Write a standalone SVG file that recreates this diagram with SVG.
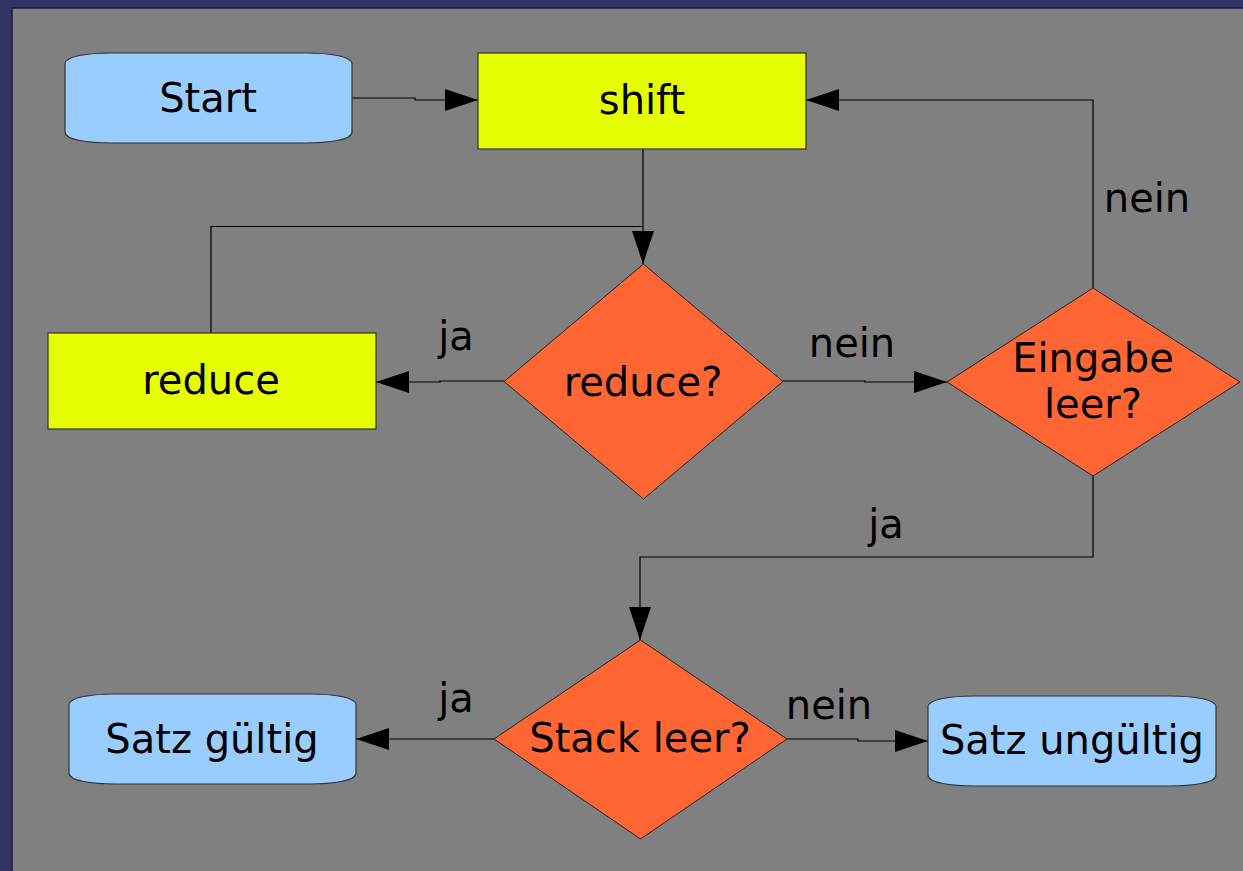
<svg xmlns="http://www.w3.org/2000/svg" width="1243" height="871" viewBox="0 0 1243 871">
  <style>
    text { font-family: "DejaVu Sans", "Liberation Sans", sans-serif; font-size: 40px; fill: #000; text-anchor: middle; }
    .term { fill: #99ccff; stroke: #333; stroke-width: 1.2; }
    .proc { fill: #e6ff00; stroke: #333; stroke-width: 1.2; }
    .dec { fill: #ff6633; stroke: #222; stroke-width: 1; }
    .conn { fill: none; stroke: #000; stroke-width: 1.2; marker-end: url(#arrow); }
    .plain { fill: none; stroke: #000; stroke-width: 1.2; }
  </style>
  <defs>
    <marker id="arrow" markerUnits="userSpaceOnUse" markerWidth="34" markerHeight="24" refX="33" refY="11" orient="auto">
      <path d="M0,0 L33,11 L0,22 Z" fill="#000"/>
    </marker>
  </defs>

  <!-- page background and panel -->
  <rect x="0" y="0" width="1243" height="871" fill="#333366"/>
  <rect x="12" y="8" width="1240" height="880" fill="#808080" stroke="#1a1a33" stroke-width="1.5"/>

  <!-- connectors -->
  <g id="connectors">
    <path class="conn" d="M352,98 H415 V100 H478"/>
    <path class="plain" d="M211,333 V226.5 H643"/>
    <path class="conn" d="M643,149 V264"/>
    <path class="conn" d="M504,381 H440 V382 H376"/>
    <path class="conn" d="M783,381 H865 V382 H947"/>
    <path class="conn" d="M1093,288 V100 H806"/>
    <path class="conn" d="M1093,476 V557 H640 V640"/>
    <path class="conn" d="M494,739 H356"/>
    <path class="conn" d="M787,739 H858 V741 H928"/>
    <text x="456" y="350">ja</text>
    <text x="852" y="357">nein</text>
    <text x="1147" y="212">nein</text>
    <text x="886" y="538">ja</text>
    <text x="456" y="712">ja</text>
    <text x="829" y="719">nein</text>
  </g>

  <g id="start">
    <path class="term" d="M65,64 C65,56 88,53 112,53 L305,53 C329,53 352,56 352,64 L352,132 C352,140 329,143 305,143 L112,143 C88,143 65,140 65,132 Z"/>
    <text x="208" y="112">Start</text>
  </g>

  <g id="shift">
    <rect class="proc" x="478" y="53" width="328" height="96"/>
    <text x="642" y="114">shift</text>
  </g>

  <g id="reduce">
    <rect class="proc" x="48" y="333" width="328" height="96"/>
    <text x="211" y="394">reduce</text>
  </g>

  <g id="reduce-check">
    <polygon class="dec" points="643.5,264 783,381.5 643.5,499 504,381.5"/>
    <text x="643" y="396">reduce?</text>
  </g>

  <g id="input-empty">
    <polygon class="dec" points="1093,288 1240,382 1093,476 947,382"/>
    <text x="1093" y="372">Eingabe</text>
    <text x="1093" y="418">leer?</text>
  </g>

  <g id="stack-empty">
    <polygon class="dec" points="640.5,640 787,739 640.5,839 494,739"/>
    <text x="640" y="752">Stack leer?</text>
  </g>

  <g id="valid">
    <path class="term" d="M69,705 C69,697 92,694 116,694 L309,694 C333,694 356,697 356,705 L356,773 C356,781 333,784 309,784 L116,784 C92,784 69,781 69,773 Z"/>
    <text x="212" y="753">Satz gültig</text>
  </g>

  <g id="invalid">
    <path class="term" d="M928,707 C928,699 951,696 975,696 L1169,696 C1193,696 1216,699 1216,707 L1216,775 C1216,783 1193,786 1169,786 L975,786 C951,786 928,783 928,775 Z"/>
    <text x="1072" y="754">Satz ungültig</text>
  </g>
</svg>
